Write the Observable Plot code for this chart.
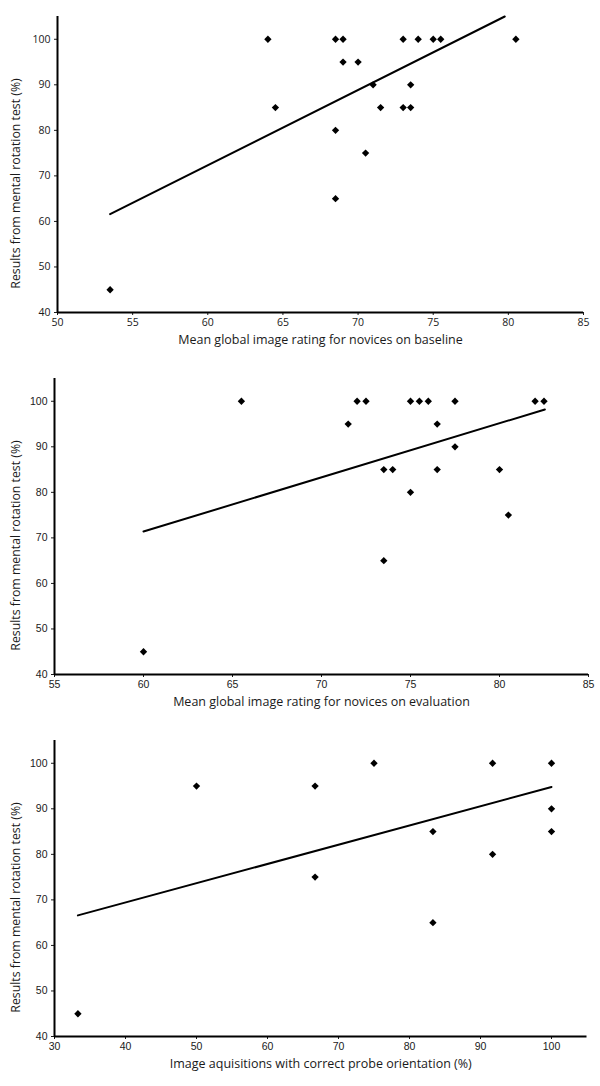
<!DOCTYPE html>
<html>
<head>
<meta charset="utf-8">
<script src="https://cdn.jsdelivr.net/npm/d3@7"></script>
<script src="https://cdn.jsdelivr.net/npm/@observablehq/plot@0.6"></script>
<style>
  html, body { margin: 0; padding: 0; background: #fff; }
  #charts svg { display: block; }
</style>
</head>
<body>
<div id="charts"></div>
<script>
// ---- Data ----
const yLabel = "Results from mental rotation test (%)";
const yTicks = [40, 50, 60, 70, 80, 90, 100];

// Chart 1: baseline
const base_x = [53.5, 64, 64.5, 68.5, 69, 69, 70, 71, 71.5, 68.5, 70.5, 68.5, 73, 74, 75, 75.5, 80.5, 73.5, 73, 73.5];
const base_y = [45, 100, 85, 100, 100, 95, 95, 90, 85, 80, 75, 65, 100, 100, 100, 100, 100, 90, 85, 85];
const base_fitX = [53.5, 79.76];
const base_fitY = [61.6, 105];
const base_xTicks = [50, 55, 60, 65, 70, 75, 80, 85];
const base_label = "Mean global image rating for novices on baseline";

// Chart 2: evaluation
const eval_x = [60, 65.5, 71.5, 72, 72.5, 73.5, 74, 73.5, 75, 75.5, 76, 75, 76.5, 76.5, 77.5, 77.5, 80, 80.5, 82, 82.5];
const eval_y = [45, 100, 95, 100, 100, 85, 85, 65, 100, 100, 100, 80, 95, 85, 100, 90, 85, 75, 100, 100];
const eval_fitX = [60, 82.55];
const eval_fitY = [71.4, 98.2];
const eval_xTicks = [55, 60, 65, 70, 75, 80, 85];
const eval_label = "Mean global image rating for novices on evaluation";

// Chart 3: probe orientation
const probe_x = [33.3, 50, 66.7, 66.7, 75, 83.3, 83.3, 91.7, 91.7, 100, 100, 100];
const probe_y = [45, 95, 95, 75, 100, 85, 65, 100, 80, 100, 90, 85];
const probe_fitX = [33.3, 100];
const probe_fitY = [66.6, 94.8];
const probe_xTicks = [30, 40, 50, 60, 70, 80, 90, 100];
const probe_label = "Image aquisitions with correct probe orientation (%)";

const labelFont = "'Open Sans', sans-serif";

function chart({xs, ys, fitX, fitY, xDomain, xTicks, xLabel, marginLeft, marginRight, tickFont}) {
  const pts = xs.map((x, i) => ({x, y: ys[i]}));
  const fit = fitX.map((x, i) => ({x, y: fitY[i]}));
  const svg = Plot.plot({
    width: 600,
    height: 362,
    marginTop: 16,
    marginBottom: 50,
    marginLeft,
    marginRight,
    style: {fontFamily: tickFont, fontSize: "10.5px", color: "#1a1a1a", background: "#fff"},
    x: {domain: xDomain},
    y: {domain: [40, 105]},
    marks: [
      Plot.axisX({ticks: xTicks, tickSize: 3, tickPadding: 3, label: null, tickFormat: d => String(d)}),
      Plot.axisY({ticks: yTicks, tickSize: 3, tickPadding: 4, label: null, tickFormat: d => String(d)}),
      Plot.ruleX([xDomain[0]], {stroke: "#000", strokeWidth: 2}),
      Plot.ruleY([40], {stroke: "#000", strokeWidth: 2}),
      Plot.line(fit, {x: "x", y: "y", stroke: "#000", strokeWidth: 2}),
      Plot.dot(pts, {x: "x", y: "y", symbol: "diamond2", r: 3.3, fill: "#000", stroke: "none"}),
      Plot.text([xLabel], {frameAnchor: "bottom", dy: 31, text: d => d, fontSize: 12.5, fontFamily: labelFont, fill: "#1a1a1a"})
    ]
  });
  d3.select(svg).append("text")
    .attr("transform", "translate(15.5,183.5) rotate(-90)")
    .attr("text-anchor", "middle")
    .attr("dominant-baseline", "central")
    .attr("font-family", labelFont)
    .attr("font-size", 12.3)
    .attr("fill", "#1a1a1a")
    .text(yLabel);
  return svg;
}

const root = document.getElementById("charts");
root.append(chart({xs: base_x, ys: base_y, fitX: base_fitX, fitY: base_fitY, xDomain: [50, 85], xTicks: base_xTicks, xLabel: base_label, marginLeft: 57, marginRight: 17, tickFont: "'Open Sans', sans-serif"}));
root.append(chart({xs: eval_x, ys: eval_y, fitX: eval_fitX, fitY: eval_fitY, xDomain: [55, 85], xTicks: eval_xTicks, xLabel: eval_label, marginLeft: 54, marginRight: 12, tickFont: "'Liberation Sans', Arial, sans-serif"}));
root.append(chart({xs: probe_x, ys: probe_y, fitX: probe_fitX, fitY: probe_fitY, xDomain: [30, 105], xTicks: probe_xTicks, xLabel: probe_label, marginLeft: 54, marginRight: 13.5, tickFont: "'Liberation Sans', Arial, sans-serif"}));
</script>
</body>
</html>
